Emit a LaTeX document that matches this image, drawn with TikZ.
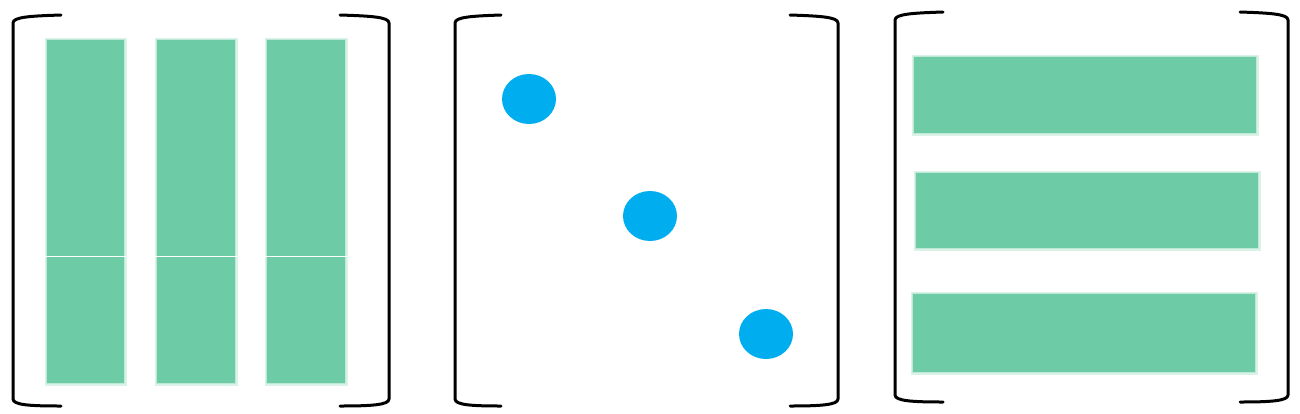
\documentclass[tikz,border=0pt]{standalone}
\definecolor{bargreen}{HTML}{6DCCA5}
\definecolor{dotblue}{HTML}{00AEEF}
\begin{document}
\begin{tikzpicture}[x=1pt,y=-1pt,
  brk/.style={line width=3pt,black,line cap=round,line join=round},
  bar/.style={fill=bargreen,draw=none},
  barsoft/.style={fill=bargreen,draw=none,opacity=0.25},
  dot/.style={fill=dotblue,draw=none}]
\useasboundingbox (0,0) rectangle (1300,413);
% brackets matrix 1
\draw[brk] (61,15) .. controls (30,16) and (13,17) .. (13,23) -- (13,399) .. controls (13,405) and (30,406) .. (61,406);
\draw[brk] (340,15) .. controls (371,16) and (389,17) .. (389,23) -- (389,399) .. controls (389,405) and (371,406) .. (340,406);
% brackets matrix 2
\draw[brk] (501,15) .. controls (472,16) and (455,17) .. (455,23) -- (455,399) .. controls (455,405) and (472,406) .. (501,406);
\draw[brk] (790,15) .. controls (820,16) and (838,17) .. (838,23) -- (838,399) .. controls (838,405) and (820,406) .. (790,406);
% brackets matrix 3
\draw[brk] (943,12) .. controls (913,13) and (895,14) .. (895,20) -- (895,395) .. controls (895,401) and (913,402) .. (943,402);
\draw[brk] (1240,12) .. controls (1270,13) and (1288,14) .. (1288,20) -- (1288,395) .. controls (1288,401) and (1270,402) .. (1240,402);
% column bars
\foreach \a/\b in {47/124,157/235,267/345}{
  \fill[barsoft] (\a-2.5,37.5) rectangle (\b+2.5,385.5);
  \fill[barsoft] (\a-1,39) rectangle (\b+1,384);
  \fill[bar] (\a,40) rectangle (\b,383);
}
\fill[white] (40,255.6) rectangle (352,256.9);
% dots
\fill[dot] (529,99) ellipse [x radius=27,y radius=25];
\fill[dot] (650,216) ellipse [x radius=27,y radius=25];
\fill[dot] (766,334) ellipse [x radius=27,y radius=25];
% row bars
\foreach \a/\b/\c/\d in {914/57/1256/133,916/173/1258/248,913/294/1255/372}{
  \fill[barsoft] (\a-2.5,\b-2.5) rectangle (\c+2.5,\d+2.5);
  \fill[barsoft] (\a-1,\b-1) rectangle (\c+1,\d+1);
  \fill[bar] (\a,\b) rectangle (\c,\d);
}
\end{tikzpicture}
\end{document}
